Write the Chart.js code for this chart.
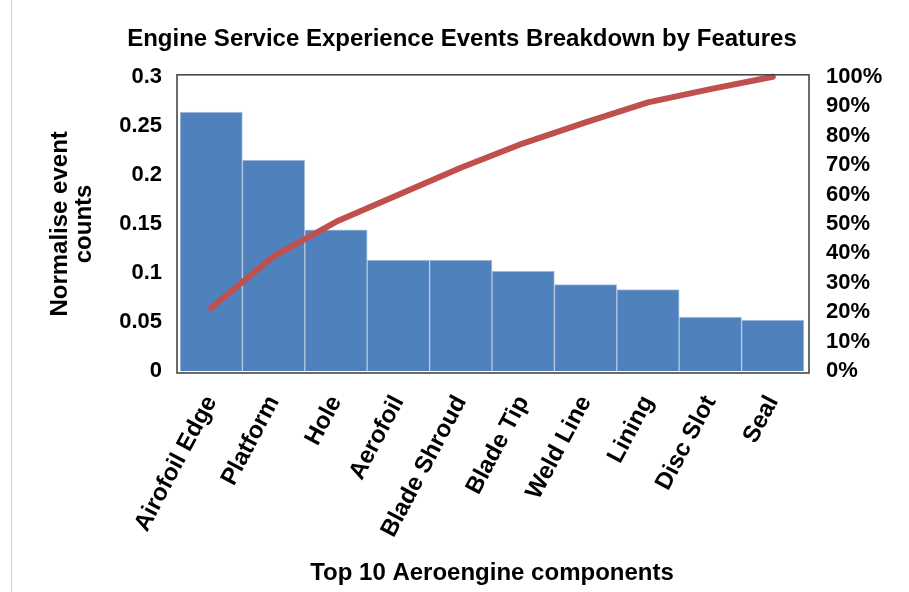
<!DOCTYPE html>
<html>
<head>
<meta charset="utf-8">
<title>Engine Service Experience Events Breakdown by Features</title>
<script src="https://cdn.jsdelivr.net/npm/chart.js@4"></script>
<style>
  html, body { margin: 0; padding: 0; background: #fff; }
  body { width: 909px; height: 592px; overflow: hidden; position: relative; }
  #wrap { position: absolute; left: 0; top: 0; width: 909px; height: 592px; }
  #edge { position: absolute; left: 11px; top: 0; width: 1px; height: 592px; background: #d0d0d0; }
</style>
</head>
<body>
<div id="wrap"><canvas id="paretoChart" width="909" height="592"></canvas></div>
<div id="edge"></div>
<script>
const components = ['Airofoil Edge', 'Platform', 'Hole', 'Aerofoil', 'Blade Shroud',
                    'Blade Tip', 'Weld Line', 'Lining', 'Disc Slot', 'Seal'];
const eventCounts = [0.264, 0.215, 0.144, 0.113, 0.113, 0.102, 0.088, 0.083, 0.055, 0.052];
const cumulativePct = [21.5, 39.0, 50.7, 59.9, 69.1, 77.4, 84.5, 91.3, 95.8, 100];
const countTicks = ['0', '0.05', '0.1', '0.15', '0.2', '0.25', '0.3'];
const pctTicks = ['0%', '10%', '20%', '30%', '40%', '50%', '60%', '70%', '80%', '90%', '100%'];

const FONT = "'Liberation Sans', Arial, Helvetica, sans-serif";
const bold24 = { family: FONT, size: 24, weight: 'bold' };
const tickFont = { family: FONT, size: 22, weight: 'bold' };

Chart.defaults.font.family = FONT;
Chart.defaults.color = '#000';

// dark frame a little outside the plotting area
const plotFrame = {
    id: 'plotFrame',
    afterDatasetsDraw(chart) {
        const { ctx, chartArea: a } = chart;
        ctx.save();
        ctx.strokeStyle = '#474747';
        ctx.lineWidth = 1.6;
        ctx.strokeRect(a.left - 3, a.top - 2, a.right - a.left + 8, a.bottom - a.top + 4);
        ctx.restore();
    }
};

const ctx = document.getElementById('paretoChart').getContext('2d');
new Chart(ctx, {
    type: 'bar',
    data: {
        labels: components,
        datasets: [
            {
                type: 'line',
                label: 'Cumulative',
                data: cumulativePct,
                yAxisID: 'y1',
                borderColor: '#C0504D',
                borderWidth: 6,
                borderCapStyle: 'round',
                borderJoinStyle: 'round',
                pointRadius: 0,
                tension: 0,
                clip: false,
                order: 0
            },
            {
                label: 'Normalise event counts',
                data: eventCounts,
                yAxisID: 'y',
                backgroundColor: '#4F81BD',
                borderColor: '#B4C8E2',
                borderWidth: 1,
                categoryPercentage: 1,
                barPercentage: 1,
                order: 1
            }
        ]
    },
    options: {
        responsive: false,
        devicePixelRatio: 1,
        animation: false,
        layout: { padding: { left: 15, right: 0, top: 0, bottom: 0 } },
        plugins: {
            legend: { display: false },
            tooltip: { enabled: false },
            title: {
                display: true,
                text: 'Engine Service Experience Events Breakdown by Features',
                font: bold24,
                color: '#000',
                padding: { top: 25, bottom: 23 }
            }
        },
        scales: {
            x: {
                grid: { display: false, drawTicks: false },
                border: { display: false },
                ticks: {
                    autoSkip: false,
                    minRotation: 62,
                    maxRotation: 62,
                    padding: 20,
                    font: bold24,
                    color: '#000'
                },
                title: {
                    display: true,
                    text: 'Top 10 Aeroengine components',
                    font: bold24,
                    color: '#000',
                    padding: { top: 0, bottom: 4 }
                },
                afterFit(scale) { scale.height = 221; }
            },
            y: {
                position: 'left',
                min: 0,
                max: 0.3,
                grid: { display: false, drawTicks: false },
                border: { display: false },
                ticks: {
                    stepSize: 0.05,
                    padding: 18,
                    font: tickFont,
                    color: '#000',
                    callback: (v, i) => countTicks[i]
                },
                title: {
                    display: true,
                    text: ['Normalise event', 'counts'],
                    font: { family: FONT, size: 24, weight: 'bold', lineHeight: 1 },
                    color: '#000',
                    padding: { top: 33, bottom: 0 }
                },
                afterFit(scale) { scale.width = 165; }
            },
            y1: {
                position: 'right',
                min: 0,
                max: 100,
                grid: { display: false, drawTicks: false },
                border: { display: false },
                ticks: {
                    stepSize: 10,
                    padding: 22,
                    font: tickFont,
                    color: '#000',
                    callback: (v, i) => pctTicks[i]
                },
                afterFit(scale) { scale.width = 105; }
            }
        }
    },
    plugins: [plotFrame]
});
</script>
</body>
</html>
